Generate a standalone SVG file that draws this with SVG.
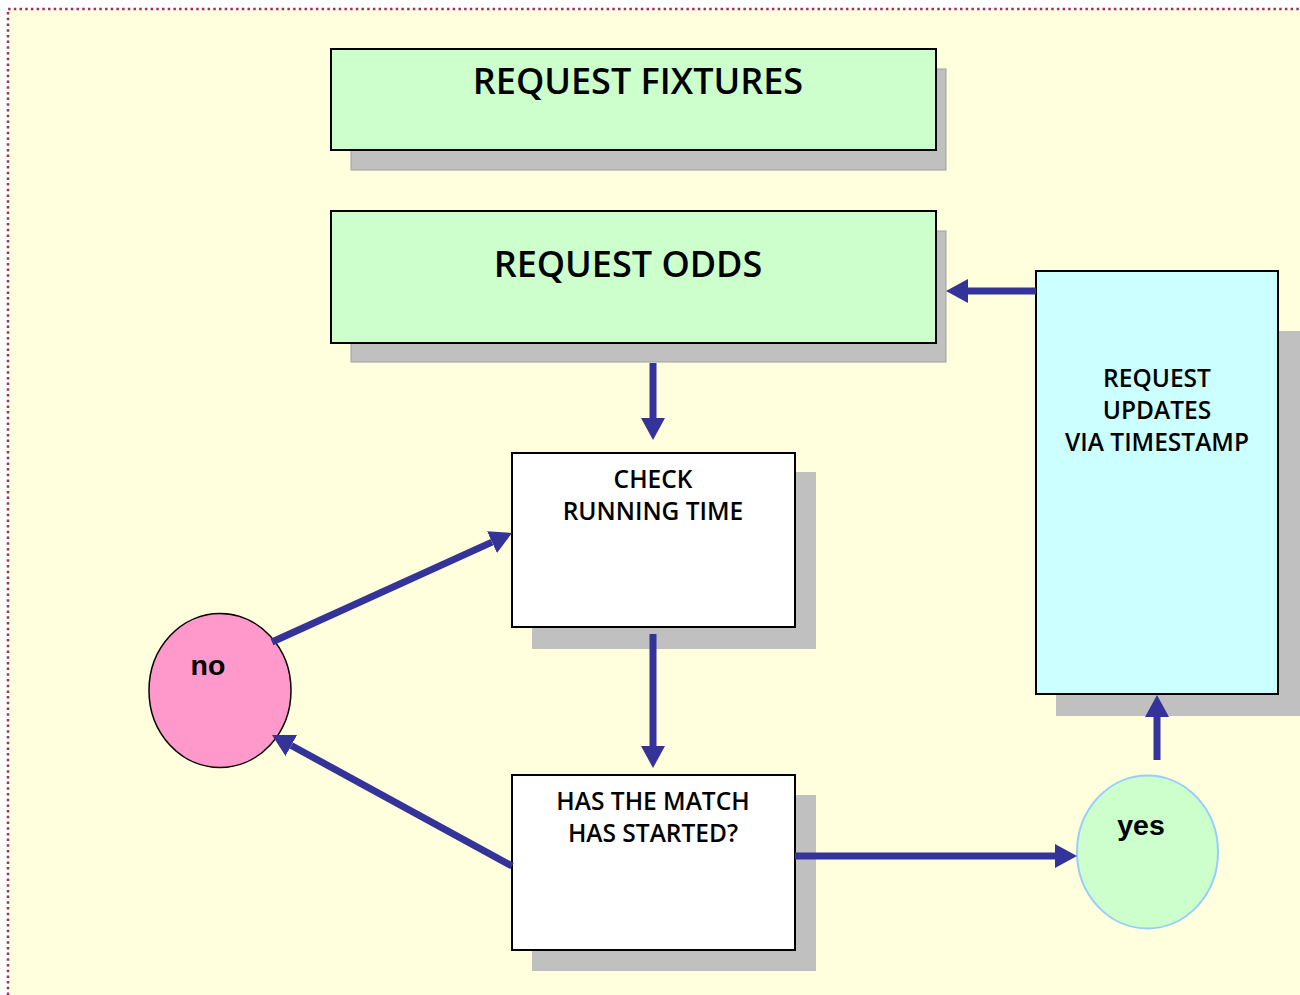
<svg xmlns="http://www.w3.org/2000/svg" width="1300" height="995" viewBox="0 0 1300 995">
<defs>
<style>
.bg{fill:#FFFFDD}
.frame{fill:none;stroke:#993366;stroke-width:2.5;stroke-dasharray:2.5 3.2}
.shadow{fill:#C0C0C0;stroke:#A0A0A0;stroke-width:1}
.shadow2{fill:#C0C0C0}
.green{fill:#CCFFCC;stroke:#000;stroke-width:2}
.white{fill:#FFFFFF;stroke:#000;stroke-width:2}
.cyan{fill:#CCFFFF;stroke:#000;stroke-width:2}
.t{font-family:"Open Sans","Noto Sans","DejaVu Sans",sans-serif;font-weight:600;fill:#000;text-anchor:middle}
.big{font-size:36px}
.mid{font-size:24.5px}
.lbl{font-family:"Liberation Sans",Arial,sans-serif;font-weight:bold;font-size:28.5px;fill:#000;text-anchor:middle}
.conn{stroke:#333399;stroke-width:7;fill:none}
</style>
<marker id="ah" markerUnits="userSpaceOnUse" viewBox="0 0 22 24" markerWidth="22" markerHeight="24" refX="0" refY="12" orient="auto">
<path d="M0,0 L22,12 L0,24 z" fill="#333399"/>
</marker>
</defs>
<rect class="bg" x="8" y="9" width="1292" height="986"/>
<path class="frame" d="M8,995 L8,9 L1300,9"/>

<g id="request-fixtures">
<rect class="shadow" x="351" y="69" width="595" height="101"/>
<rect class="green" x="331" y="49" width="605" height="101"/>
<text class="t big" x="638" y="94">REQUEST FIXTURES</text>
</g>

<g id="request-odds">
<rect class="shadow" x="351" y="231" width="595" height="131"/>
<rect class="green" x="331" y="211" width="605" height="132"/>
<text class="t big" x="628" y="277">REQUEST ODDS</text>
</g>

<g id="check-running-time">
<rect class="shadow2" x="532" y="472" width="284" height="177"/>
<rect class="white" x="512" y="453" width="283" height="174"/>
<text class="t mid" x="653" y="488">CHECK</text>
<text class="t mid" x="653" y="520">RUNNING TIME</text>
</g>

<g id="has-match-started">
<rect class="shadow2" x="532" y="795" width="284" height="176"/>
<rect class="white" x="512" y="775" width="283" height="175"/>
<text class="t mid" x="653" y="810">HAS THE MATCH</text>
<text class="t mid" x="653" y="842">HAS STARTED?</text>
</g>

<g id="request-updates">
<rect class="shadow2" x="1056" y="331" width="244" height="385"/>
<rect class="cyan" x="1036" y="271" width="242" height="423"/>
<text class="t mid" x="1157" y="387">REQUEST</text>
<text class="t mid" x="1157" y="419">UPDATES</text>
<text class="t mid" x="1157" y="451">VIA TIMESTAMP</text>
</g>

<g id="no">
<ellipse cx="220" cy="690.5" rx="71" ry="77" fill="#FF99CC" stroke="#000" stroke-width="1.5"/>
<text class="lbl" x="208" y="675">no</text>
</g>

<g id="yes">
<ellipse cx="1147.5" cy="852" rx="70.5" ry="76.5" fill="#CCFFCC" stroke="#99CCFF" stroke-width="2"/>
<text class="lbl" x="1141" y="835">yes</text>
</g>

<g id="connectors">
<line class="conn" x1="1036" y1="291" x2="968" y2="291" marker-end="url(#ah)"/>
<line class="conn" x1="653" y1="363" x2="653" y2="418" marker-end="url(#ah)"/>
<line class="conn" x1="653" y1="634" x2="653" y2="746" marker-end="url(#ah)"/>
<line class="conn" x1="795" y1="856" x2="1055" y2="856" marker-end="url(#ah)"/>
<line class="conn" x1="1157" y1="760" x2="1157" y2="717" marker-end="url(#ah)"/>
<line class="conn" x1="272" y1="642" x2="492" y2="542.1" marker-end="url(#ah)"/>
<line class="conn" x1="512" y1="866" x2="291.3" y2="745.5" marker-end="url(#ah)"/>
</g>
</svg>
